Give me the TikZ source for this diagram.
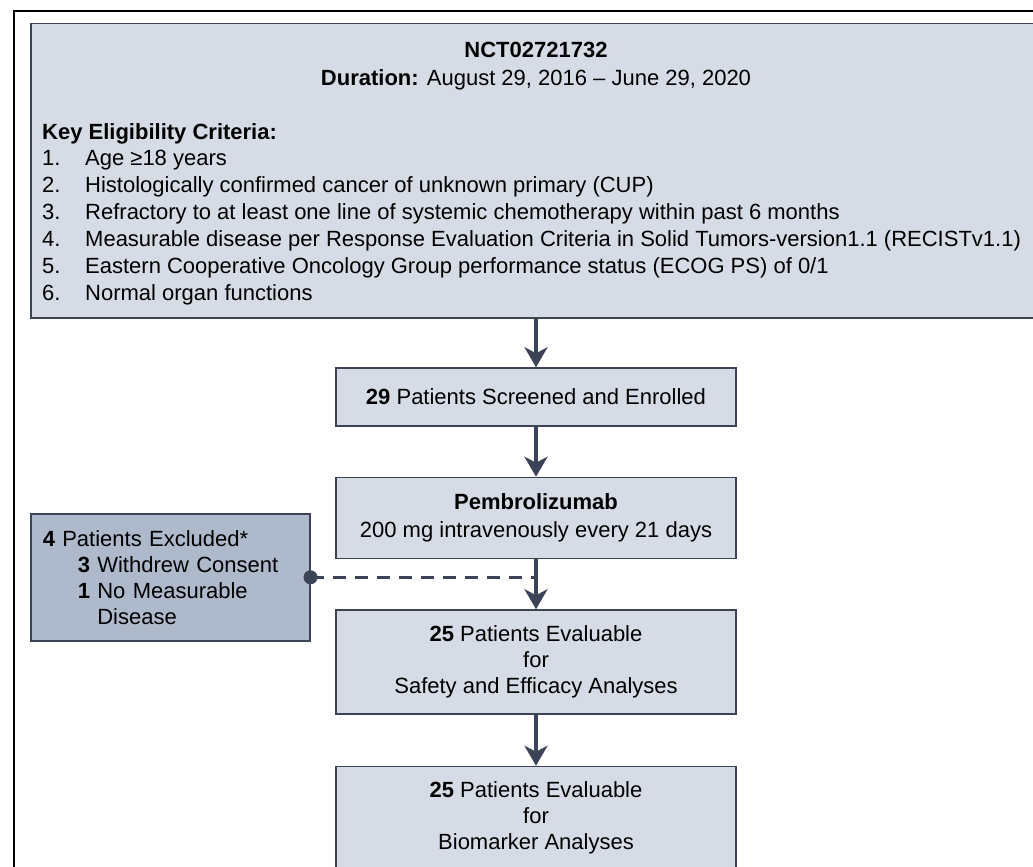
\documentclass[tikz,border=0pt]{standalone}
\usepackage{fontspec}
\setmainfont{Liberation Sans}
\usetikzlibrary{arrows.meta, positioning}

\definecolor{boxfill}{HTML}{D6DCE5}
\definecolor{exclfill}{HTML}{AEB9CB}
\definecolor{slate}{HTML}{3A4456}

\begin{document}
\begin{tikzpicture}[x=1pt, y=-1pt,
	every node/.style={font=\fontsize{22}{26}\selectfont, inner sep=0pt},
	flowbox/.style={draw=slate, line width=1.5pt, fill=boxfill, minimum width=400pt, align=center},
	flowarrow/.style={draw=slate, line width=4.5pt, -{Stealth[length=20pt, width=23pt, inset=6pt]}},
]
\useasboundingbox (0,0) rectangle (1033,867);

% Frame round the figure (cut off at right and bottom)
\draw[line width=2.5pt] (14,880) -- (14,11) -- (1050,11);

% Eligibility box
\node[draw=slate, line width=1.5pt, fill=boxfill, minimum width=1015pt, minimum height=294pt, anchor=north west] (elig) at (30,23) {};
\node[anchor=base] (nct) at (536,58) {\textbf{NCT02721732}};
\node[anchor=base] (dur) at (536,85) {\textbf{Duration:} August 29, 2016 – June 29, 2020};
\node[anchor=base west] (key) at (42,139) {\textbf{Key Eligibility Criteria:}};
\pgfmathsetmacro{\critstep}{27}
\foreach \i/\txt in {1/{Age ≥18 years},
	2/{Histologically confirmed cancer of unknown primary (CUP)},
	3/{Refractory to at least one line of systemic chemotherapy within past 6 months},
	4/{Measurable disease per Response Evaluation Criteria in Solid Tumors-version1.1 (RECISTv1.1)},
	5/{Eastern Cooperative Oncology Group performance status (ECOG PS) of 0/1},
	6/{Normal organ functions}}{
	\node[anchor=base west] (num\i) at (42,{165+\critstep*(\i-1)}) {\i.};
	\node[anchor=base west] (crit\i) at (85,{165+\critstep*(\i-1)}) {\txt};
}

% Flow of patients
\node[flowbox, minimum height=58pt] (enroll) at (536,397) {\textbf{29} Patients Screened and Enrolled};
\node[flowbox, minimum height=81pt, below=50pt of enroll] (pembro) {\textbf{Pembrolizumab}\\[2pt]200 mg intravenously every 21 days};
\node[flowbox, minimum height=104pt, below=50pt of pembro] (safety) {\textbf{25} Patients Evaluable\\for\\Safety and Efficacy Analyses};
\node[flowbox, minimum height=103pt, below=51pt of safety] (biomark) {\textbf{25} Patients Evaluable\\for\\Biomarker Analyses};

% Excluded patients
\node[draw=slate, line width=1.5pt, fill=exclfill, minimum width=279pt, minimum height=127pt, text width=255pt, align=left, anchor=north west] (excl) at (30,513)
	{\textbf{4} Patients Excluded*\\
	\hspace*{35pt}\textbf{3} Withdrew Consent\\
	\hspace*{35pt}\textbf{1} No Measurable\\
	\hspace*{35pt}\phantom{\textbf{1} }Disease};
\draw[slate, line width=3pt, dash pattern=on 13pt off 9pt] (excl.east) -- (excl.east -| pembro.south);
\fill[slate] (excl.east) circle[radius=7pt];

% Arrows
\draw[flowarrow] (enroll.north |- elig.south) -- (enroll.north);
\draw[flowarrow] (enroll) -- (pembro);
\draw[flowarrow] (pembro) -- (safety);
\draw[flowarrow] (safety) -- (biomark);

\end{tikzpicture}
\end{document}
